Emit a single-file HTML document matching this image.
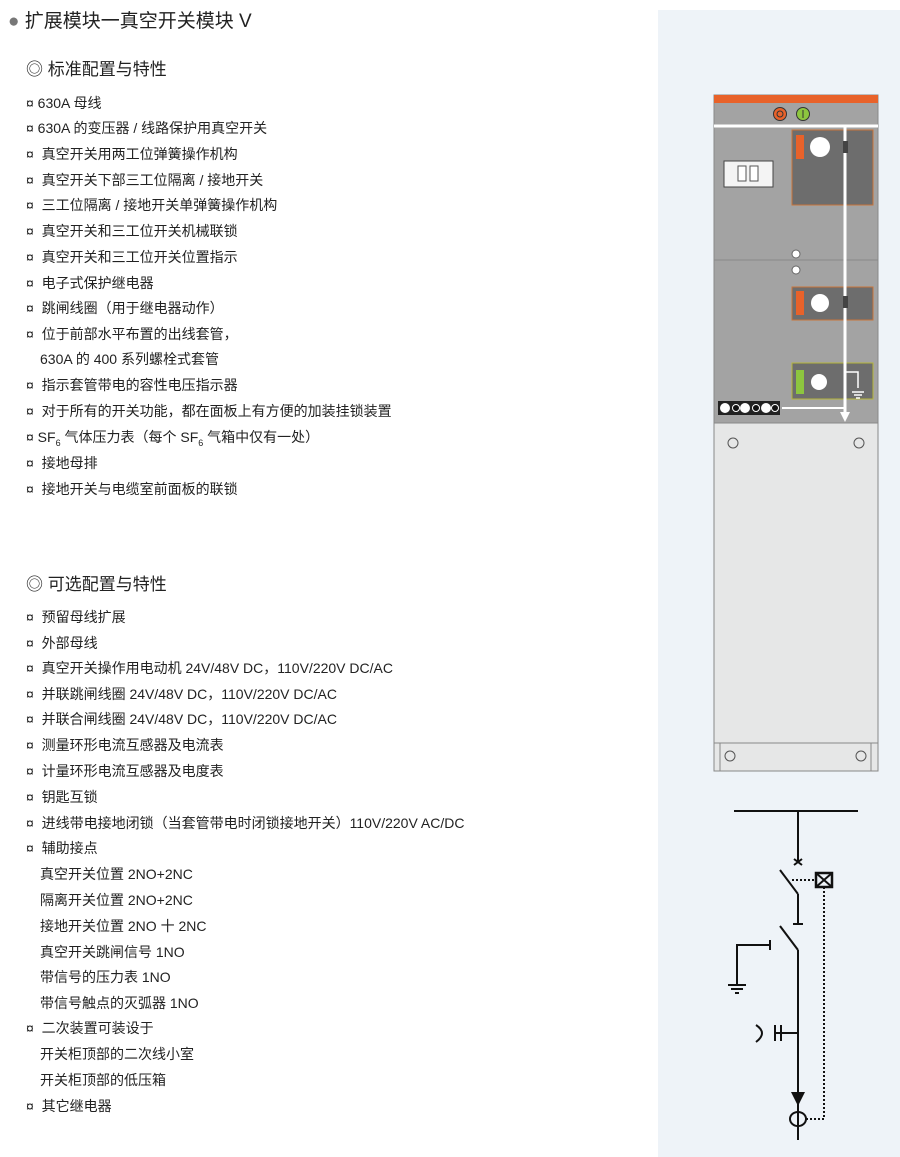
<!DOCTYPE html>
<html><head><meta charset="utf-8"><style>
body{margin:0;width:900px;height:1157px;background:#fff;position:relative;overflow:hidden;font-family:"Liberation Sans","Noto Sans CJK SC",sans-serif;color:#222}
.bg{position:absolute;left:658px;top:10px;width:242px;height:1147px;background:#eef3f8}
.t{position:absolute;white-space:nowrap;font-size:14px;line-height:16px}
.h1{position:absolute;left:8px;top:6px;font-size:19px;white-space:nowrap}
.h2{position:absolute;left:26px;font-size:17px;white-space:nowrap}
svg{position:absolute;left:0;top:0}
</style></head><body>
<div class="bg"></div>
<div class="h1"><span style="color:#777">●</span> 扩展模块一真空开关模块 V</div>
<div class="h2" style="top:55px">◎ 标准配置与特性</div>
<div class="t" style="left:26px;top:95px">¤ 630A 母线</div>
<div class="t" style="left:26px;top:120px">¤ 630A 的变压器 / 线路保护用真空开关</div>
<div class="t" style="left:26px;top:146px">¤ &nbsp;真空开关用两工位弹簧操作机构</div>
<div class="t" style="left:26px;top:172px">¤ &nbsp;真空开关下部三工位隔离 / 接地开关</div>
<div class="t" style="left:26px;top:197px">¤ &nbsp;三工位隔离 / 接地开关单弹簧操作机构</div>
<div class="t" style="left:26px;top:223px">¤ &nbsp;真空开关和三工位开关机械联锁</div>
<div class="t" style="left:26px;top:249px">¤ &nbsp;真空开关和三工位开关位置指示</div>
<div class="t" style="left:26px;top:275px">¤ &nbsp;电子式保护继电器</div>
<div class="t" style="left:26px;top:300px">¤ &nbsp;跳闸线圈（用于继电器动作）</div>
<div class="t" style="left:26px;top:326px">¤ &nbsp;位于前部水平布置的出线套管，</div>
<div class="t" style="left:40px;top:351px">630A 的 400 系列螺栓式套管</div>
<div class="t" style="left:26px;top:377px">¤ &nbsp;指示套管带电的容性电压指示器</div>
<div class="t" style="left:26px;top:403px">¤ &nbsp;对于所有的开关功能，都在面板上有方便的加装挂锁装置</div>
<div class="t" style="left:26px;top:429px">¤ SF<sub style="font-size:9px">6</sub> 气体压力表（每个 SF<sub style="font-size:9px">6</sub> 气箱中仅有一处）</div>
<div class="t" style="left:26px;top:455px">¤ &nbsp;接地母排</div>
<div class="t" style="left:26px;top:481px">¤ &nbsp;接地开关与电缆室前面板的联锁</div>
<div class="h2" style="top:570px">◎ 可选配置与特性</div>
<div class="t" style="left:26px;top:609px">¤ &nbsp;预留母线扩展</div>
<div class="t" style="left:26px;top:635px">¤ &nbsp;外部母线</div>
<div class="t" style="left:26px;top:660px">¤ &nbsp;真空开关操作用电动机 24V/48V DC，110V/220V DC/AC</div>
<div class="t" style="left:26px;top:686px">¤ &nbsp;并联跳闸线圈 24V/48V DC，110V/220V DC/AC</div>
<div class="t" style="left:26px;top:711px">¤ &nbsp;并联合闸线圈 24V/48V DC，110V/220V DC/AC</div>
<div class="t" style="left:26px;top:737px">¤ &nbsp;测量环形电流互感器及电流表</div>
<div class="t" style="left:26px;top:763px">¤ &nbsp;计量环形电流互感器及电度表</div>
<div class="t" style="left:26px;top:789px">¤ &nbsp;钥匙互锁</div>
<div class="t" style="left:26px;top:815px">¤ &nbsp;进线带电接地闭锁（当套管带电时闭锁接地开关）110V/220V AC/DC</div>
<div class="t" style="left:26px;top:840px">¤ &nbsp;辅助接点</div>
<div class="t" style="left:40px;top:866px">真空开关位置 2NO+2NC</div>
<div class="t" style="left:40px;top:892px">隔离开关位置 2NO+2NC</div>
<div class="t" style="left:40px;top:918px">接地开关位置 2NO 十 2NC</div>
<div class="t" style="left:40px;top:944px">真空开关跳闸信号 1NO</div>
<div class="t" style="left:40px;top:969px">带信号的压力表 1NO</div>
<div class="t" style="left:40px;top:995px">带信号触点的灭弧器 1NO</div>
<div class="t" style="left:26px;top:1020px">¤ &nbsp;二次装置可装设于</div>
<div class="t" style="left:40px;top:1046px">开关柜顶部的二次线小室</div>
<div class="t" style="left:40px;top:1072px">开关柜顶部的低压箱</div>
<div class="t" style="left:26px;top:1098px">¤ &nbsp;其它继电器</div>

<svg width="900" height="1157">
<!-- cabinet -->
<rect x="714" y="95" width="164" height="328" fill="#a3a3a3" stroke="#888"/>
<rect x="714" y="95" width="164" height="8" fill="#e8622a"/>
<line x1="714" y1="126" x2="878" y2="126" stroke="#fff" stroke-width="3"/>
<line x1="714" y1="260" x2="878" y2="260" stroke="#888" stroke-width="1"/>
<circle cx="780" cy="114" r="6.5" fill="#e8622a" stroke="#333"/><circle cx="780" cy="114" r="3" fill="none" stroke="#333"/>
<circle cx="803" cy="114" r="6.5" fill="#8dc63f" stroke="#333"/><line x1="803" y1="110" x2="803" y2="118" stroke="#333"/>
<rect x="792" y="130" width="81" height="75" fill="#6d6d6d" stroke="#c8743a"/>
<rect x="796" y="135" width="8" height="24" fill="#e8622a"/>
<circle cx="820" cy="147" r="10" fill="#fff"/>
<rect x="724" y="161" width="49" height="26" fill="#f4f4f4" stroke="#444"/>
<rect x="738" y="166" width="8" height="15" fill="#fff" stroke="#555"/><rect x="750" y="166" width="8" height="15" fill="#fff" stroke="#555"/>
<circle cx="796" cy="254" r="4" fill="#fff" stroke="#666"/>
<circle cx="796" cy="270" r="4" fill="#fff" stroke="#666"/>
<rect x="792" y="287" width="81" height="33" fill="#6d6d6d" stroke="#c8743a"/>
<rect x="796" y="291" width="8" height="24" fill="#e8622a"/>
<circle cx="820" cy="303" r="9" fill="#fff"/>
<rect x="792" y="363" width="81" height="36" fill="#6d6d6d" stroke="#b5b53a"/>
<rect x="796" y="370" width="8" height="24" fill="#8dc63f"/>
<circle cx="819" cy="382" r="8" fill="#fff"/>
<path d="M845 372 H858 V388 M852 392 H864 M854 395 H862 M856 398 H860" stroke="#fff" stroke-width="1.5" fill="none"/>
<line x1="845" y1="126" x2="845" y2="414" stroke="#fff" stroke-width="3"/>
<polygon points="840,412 850,412 845,422" fill="#fff"/>
<rect x="843" y="141" width="5" height="12" fill="#444"/><rect x="843" y="296" width="5" height="12" fill="#444"/>
<line x1="782" y1="408" x2="845" y2="408" stroke="#fff" stroke-width="2"/>
<rect x="718" y="401" width="62" height="14" fill="#222"/>
<circle cx="725" cy="408" r="5" fill="#fff"/><circle cx="736" cy="408" r="3.5" fill="#111" stroke="#fff"/><circle cx="745" cy="408" r="5" fill="#fff"/><circle cx="756" cy="408" r="3.5" fill="#111" stroke="#fff"/><circle cx="766" cy="408" r="5" fill="#fff"/><circle cx="775" cy="408" r="3.5" fill="#111" stroke="#fff"/>
<rect x="714" y="423" width="164" height="320" fill="#e6e7e7" stroke="#888"/>
<circle cx="733" cy="443" r="5" fill="none" stroke="#555"/><circle cx="859" cy="443" r="5" fill="none" stroke="#555"/>
<rect x="714" y="743" width="164" height="28" fill="#e6e7e7" stroke="#888"/>
<line x1="720" y1="743" x2="720" y2="771" stroke="#888"/><line x1="871" y1="743" x2="871" y2="771" stroke="#888"/>
<circle cx="730" cy="756" r="5" fill="none" stroke="#555"/><circle cx="861" cy="756" r="5" fill="none" stroke="#555"/>
<!-- single line diagram -->
<g stroke="#111" stroke-width="2" fill="none">
<line x1="734" y1="811" x2="858" y2="811"/>
<line x1="798" y1="811" x2="798" y2="862"/>
<path d="M794 859 L802 865 M802 859 L794 865"/>
<line x1="780" y1="870" x2="798" y2="894"/>
<line x1="798" y1="894" x2="798" y2="924"/><line x1="793" y1="924" x2="803" y2="924"/>
<line x1="780" y1="926" x2="798" y2="950"/>
<line x1="798" y1="950" x2="798" y2="1140"/>
<path d="M770 945 H737 V985"/><line x1="770" y1="940" x2="770" y2="950"/>
<line x1="728" y1="985" x2="746" y2="985"/><line x1="731" y1="989" x2="743" y2="989"/><line x1="735" y1="993" x2="739" y2="993"/>
<line x1="775" y1="1033" x2="798" y2="1033"/>
<line x1="775" y1="1025" x2="775" y2="1041"/><line x1="781" y1="1025" x2="781" y2="1041"/>
<path d="M756 1025 Q768 1033 756 1042"/>
<ellipse cx="798" cy="1119" rx="8" ry="7"/>
<rect x="816" y="873" width="16" height="14" stroke-width="2.5"/>
<path d="M816 873 L832 887 M832 873 L816 887"/>
</g>
<polygon points="791,1092 805,1092 798,1106" fill="#111"/>
<g stroke="#111" stroke-width="2" stroke-dasharray="2,2" fill="none">
<line x1="792" y1="880" x2="816" y2="880"/>
<path d="M824 887 V1119 H806"/>
</g>
</svg>
</body></html>
